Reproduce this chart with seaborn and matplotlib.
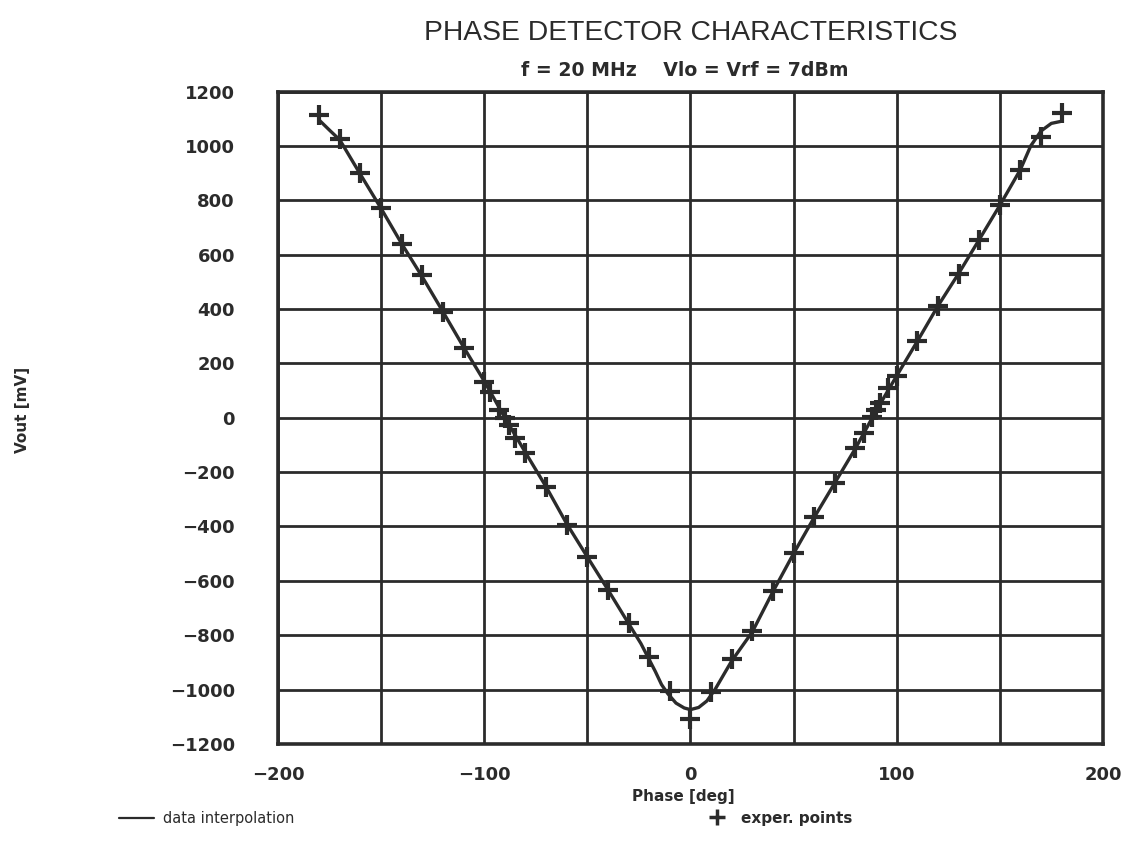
import matplotlib
matplotlib.use("Agg")
import matplotlib.pyplot as plt
from matplotlib.lines import Line2D
from matplotlib.ticker import MultipleLocator
import seaborn as sns
import pandas as pd

# ---- data ----
curve_phase = [-180, -175, -170, -160, -150, -140, -130, -120, -110, -100, -90, -80,
               -70, -60, -50, -40, -30, -24, -17, -14, -11, -7, -3, 0, 4, 8, 12, 20,
               30, 40, 50, 60, 70, 80, 90, 100, 110, 120, 130, 140, 150, 160, 165,
               170, 175, 180]
curve_vout = [1095, 1058, 1022, 895, 770, 640, 518, 390, 260, 135, 0, -128,
              -254, -390, -512, -633, -757, -831, -934, -982, -1015, -1050, -1068, -1074,
              -1066, -1042, -999, -895, -788, -640, -500, -367, -240, -113, 25, 154,
              281, 411, 530, 655, 781, 913, 1000, 1055, 1083, 1091]

exp_phase = [-180, -170, -160, -150, -140, -130, -120, -110, -100, -97, -93, -90, -88,
             -85, -80, -70, -60, -50, -40, -30, -20, -10, 0, 10, 20, 30, 40, 50, 60,
             70, 80, 84, 88, 90, 92, 96, 100, 110, 120, 130, 140, 150, 160, 170, 180]
exp_vout = [1113, 1027, 899, 770, 641, 524, 389, 257, 132, 95, 30, 0, -25,
            -75, -130, -254, -393, -512, -635, -757, -880, -1007, -1108, -1010, -887,
            -786, -637, -499, -367, -241, -110, -57, 2, 30, 54, 111, 154, 281, 411,
            530, 655, 781, 913, 1034, 1121]

x_ticks = [-200, -100, 0, 100, 200]
x_grid_step = 50
y_ticks = [-1200, -1000, -800, -600, -400, -200, 0, 200, 400, 600, 800, 1000, 1200]

title_text = "PHASE DETECTOR CHARACTERISTICS"
subtitle_text = "f = 20 MHz    Vlo = Vrf = 7dBm"
x_label = "Phase [deg]"
y_label = "Vout [mV]"
legend_line = "data interpolation"
legend_points = "exper. points"

# ---- plotting ----
sns.set_theme(style="white")
plt.rcParams["font.family"] = ["DejaVu Sans"]
plt.rcParams["axes.unicode_minus"] = True

ink = "#2b2b2b"
curve_df = pd.DataFrame({"phase": curve_phase, "vout": curve_vout})
exp_df = pd.DataFrame({"phase": exp_phase, "vout": exp_vout})

fig = plt.figure(figsize=(11.30, 8.56), dpi=100)
ax = fig.add_axes([0.246, 0.131, 0.730, 0.762])

sns.lineplot(data=curve_df, x="phase", y="vout", ax=ax, sort=False,
             color=ink, linewidth=2.4, legend=False)
sns.scatterplot(data=exp_df, x="phase", y="vout", ax=ax, marker="+",
                s=190, linewidth=3.0, color=ink, legend=False, zorder=5)

ax.set_xlim(-200, 200)
ax.set_ylim(-1200, 1200)
ax.set_xticks(x_ticks)
ax.xaxis.set_minor_locator(MultipleLocator(x_grid_step))
ax.set_yticks(y_ticks)
ax.grid(True, which="major", color=ink, linewidth=2.0)
ax.grid(True, which="minor", axis="x", color=ink, linewidth=2.0)
ax.set_axisbelow(True)
for sp in ax.spines.values():
    sp.set_color(ink)
    sp.set_linewidth(2.6)
ax.tick_params(axis="both", which="both", direction="out", length=8, width=2.0,
               color=ink, labelcolor=ink, labelsize=13)
ax.tick_params(axis="y", pad=23)
ax.tick_params(axis="x", which="both", pad=8, length=8)
for lab in ax.get_xticklabels() + ax.get_yticklabels():
    lab.set_fontweight("bold")
ax.set_xlabel("")
ax.set_ylabel("")

fig.text(0.611, 0.961, title_text, ha="center", va="center", fontsize=20.3,
         color=ink, family=["Liberation Sans", "DejaVu Sans"])
fig.text(0.606, 0.918, subtitle_text, ha="center", va="center", fontsize=13.6,
         color=ink, fontweight="bold")
fig.text(0.605, 0.069, x_label, ha="center", va="center", fontsize=11,
         color=ink, fontweight="bold")
fig.text(0.020, 0.521, y_label, ha="center", va="center", rotation=90,
         fontsize=11, color=ink, fontweight="bold")

h_line = ax.get_lines()[0]
h_pts = Line2D([], [], linestyle="none", marker="+", markersize=11,
               markeredgewidth=2.5, color=ink)
leg1 = fig.legend(handles=[h_line], labels=[legend_line], loc="center left",
                  bbox_to_anchor=(0.100, 0.044), frameon=False, fontsize=10.5,
                  handlelength=2.4, handletextpad=0.6, borderaxespad=0)
leg2 = fig.legend(handles=[h_pts], labels=[legend_points], loc="center left",
                  bbox_to_anchor=(0.622, 0.044), frameon=False, fontsize=11,
                  handlelength=1.0, handletextpad=1.1, borderaxespad=0)
for t in leg1.get_texts():
    t.set_color(ink)
for t in leg2.get_texts():
    t.set_fontweight("bold")
    t.set_color(ink)
leg1.get_lines()[0].set_linewidth(1.6)

fig.savefig("out.png", dpi=100, facecolor="white")
